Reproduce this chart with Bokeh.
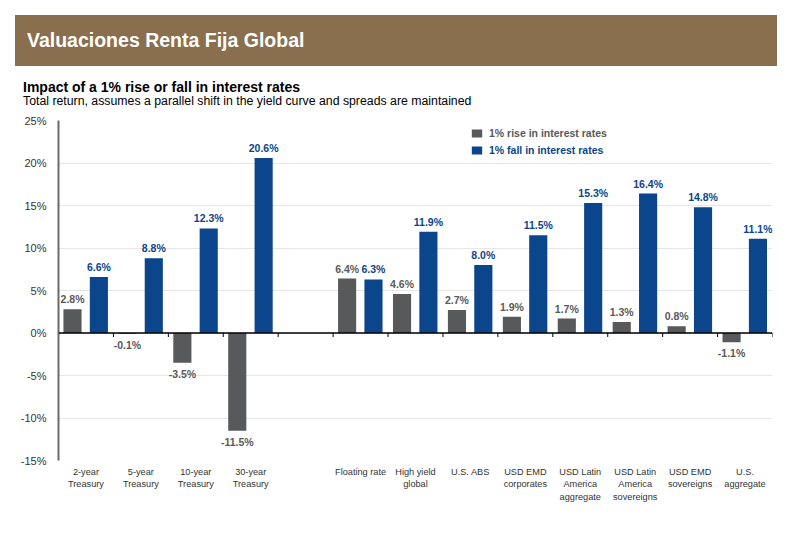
import numpy as np
from bokeh.plotting import figure
from bokeh.models import (Range1d, FixedTicker, PrintfTickFormatter, Legend, LegendItem,
                          Div, ColumnDataSource, Span)
from bokeh.core.properties import value
from bokeh.layouts import column
from bokeh.embed import file_html
from bokeh.resources import INLINE

# Treasury maturities (left group)
treasury_labels = ["2-year\nTreasury", "5-year\nTreasury", "10-year\nTreasury", "30-year\nTreasury"]
treasury_rise = [2.8, -0.1, -3.5, -11.5]
treasury_fall = [6.6, 8.8, 12.3, 20.6]

# Credit / other sectors (right group)
sector_labels = ["Floating rate", "High yield\nglobal", "U.S. ABS", "USD EMD\ncorporates",
                 "USD Latin\nAmerica\naggregate", "USD Latin\nAmerica\nsovereigns",
                 "USD EMD\nsovereigns", "U.S.\naggregate"]
sector_rise = [6.4, 4.6, 2.7, 1.9, 1.7, 1.3, 0.8, -1.1]
sector_fall = [6.3, 11.9, 8.0, 11.5, 15.3, 16.4, 14.8, 11.1]

y_ticks = [-15, -10, -5, 0, 5, 10, 15, 20, 25]

GRAY = "#58595b"
BLUE = "#0b458c"
FONT = "Liberation Sans"

# one empty slot separates the two groups
centers = np.concatenate([np.arange(len(treasury_labels)) + 0.5,
                          np.arange(len(sector_labels)) + len(treasury_labels) + 1.5])
labels = treasury_labels + sector_labels
rise = treasury_rise + sector_rise
fall = treasury_fall + sector_fall
n_slots = len(treasury_labels) + 1 + len(sector_labels)

BAR_W = 0.33
RISE_OFF = -0.245
FALL_OFF = 0.235

Y_MIN, Y_MAX = y_ticks[0], y_ticks[-1]
FRAME_H = 340  # px between the -15% and 25% gridlines

src = ColumnDataSource(dict(
    xr=centers + RISE_OFF, xf=centers + FALL_OFF, rise=rise, fall=fall,
))

p = figure(width=790, height=425, x_range=Range1d(0, n_slots), y_range=Range1d(Y_MIN, Y_MAX),
           output_backend="svg", toolbar_location=None,
           min_border_left=58, min_border_right=18, min_border_top=10, min_border_bottom=75)
p.outline_line_color = None
p.background_fill_color = "white"
p.border_fill_color = "white"

p.xgrid.grid_line_color = None
p.ygrid.ticker = FixedTicker(ticks=y_ticks)
p.ygrid.grid_line_color = "#e6e6e6"

r_rise = p.vbar(x="xr", top="rise", width=BAR_W, source=src, fill_color=GRAY, line_color=None)
r_fall = p.vbar(x="xf", top="fall", width=BAR_W, source=src, fill_color=BLUE, line_color=None)

# zero line with small downward ticks at every category boundary
p.add_layout(Span(location=0, dimension="width", line_color="black", line_width=1.5))
tick_len = 4 * (Y_MAX - Y_MIN) / FRAME_H
bounds = list(range(1, n_slots + 1))
p.segment(x0=bounds, x1=bounds, y0=[0] * len(bounds), y1=[-tick_len] * len(bounds),
          line_color="black", line_width=1)


# value labels above positive bars, below negative ones
def add_labels(xs, vals, color):
    pos = [(x, v) for x, v in zip(xs, vals) if v >= 0]
    neg = [(x, v) for x, v in zip(xs, vals) if v < 0]
    for pts, base, off in ((pos, "bottom", -4), (neg, "top", 5)):
        if not pts:
            continue
        s = ColumnDataSource(dict(x=[a for a, _ in pts], y=[b for _, b in pts],
                                  t=[f"{b:.1f}%" for _, b in pts]))
        p.text(x="x", y="y", text="t", source=s, text_align="center", text_baseline=base,
               y_offset=off, text_font=value(FONT), text_font_size="10.5px",
               text_font_style="bold", text_color=color)


add_labels(centers + RISE_OFF, rise, "#595959")
add_labels(centers + FALL_OFF, fall, BLUE)

# bottom axis: category names only
xa = p.xaxis[0]
xa.ticker = FixedTicker(ticks=list(centers))
xa.major_label_overrides = {float(c): l for c, l in zip(centers, labels)}
xa.axis_line_color = None
xa.major_tick_line_color = None
xa.minor_tick_line_color = None
xa.major_label_standoff = 0
xa.major_label_text_font = FONT
xa.major_label_text_font_size = "9.2px"
xa.major_label_text_color = "#333333"
xa.major_label_text_line_height = 1.25

# y axis
ya = p.yaxis[0]
ya.ticker = FixedTicker(ticks=y_ticks)
ya.formatter = PrintfTickFormatter(format="%d%%")
ya.axis_line_color = "#6b6b6b"
ya.axis_line_width = 2
ya.major_tick_line_color = None
ya.minor_tick_line_color = None
ya.major_label_standoff = 6
ya.major_label_text_font = FONT
ya.major_label_text_font_size = "11px"
ya.major_label_text_color = "#333333"

# legends (one per series so each label keeps its series colour)
for r, text, color, loc in ((r_rise, "1% rise in interest rates", "#595959", (412, 321)),
                            (r_fall, "1% fall in interest rates", BLUE, (412, 304))):
    lg = Legend(items=[LegendItem(label=text, renderers=[r])], location=loc,
                glyph_width=13, glyph_height=10, label_height=10, label_standoff=6,
                padding=0, margin=0, spacing=0, border_line_color=None,
                background_fill_alpha=0, label_text_font=FONT, label_text_font_size="10.5px",
                label_text_font_style="bold", label_text_color=color)
    p.add_layout(lg, "center")

# banner and headings above the chart
header = Div(
    text=(
        '<div style="position:relative;width:775px;height:95px;'
        'font-family:\'Liberation Sans\',Arial,sans-serif;">'
        '<div style="position:absolute;left:0;top:0;width:762px;height:51px;'
        'background:#8a6f4e;color:white;font-weight:bold;font-size:19.5px;'
        'line-height:51px;padding-left:12px;box-sizing:border-box;">'
        'Valuaciones Renta Fija Global</div>'
        '<div style="position:absolute;left:8px;top:65px;font-size:14px;line-height:14px;'
        'font-weight:bold;color:black;white-space:nowrap;">'
        'Impact of a 1% rise or fall in interest rates</div>'
        '<div style="position:absolute;left:8px;top:80px;font-size:12.3px;line-height:12.3px;'
        'color:black;white-space:nowrap;">'
        'Total return, assumes a parallel shift in the yield curve and spreads are maintained</div>'
        '</div>'),
    width=775, height=95, margin=(15, 0, 0, 15))

layout = column(header, p, spacing=0)
open("out.html", "w").write(file_html(layout, INLINE))
